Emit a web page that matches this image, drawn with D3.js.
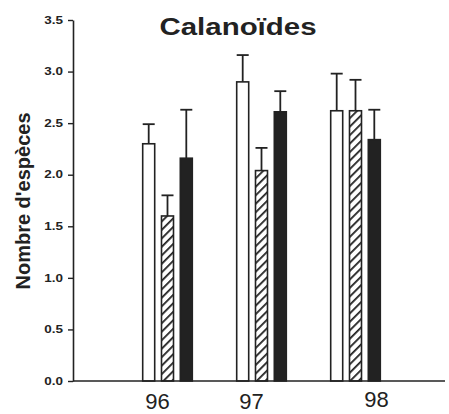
<!DOCTYPE html>
<html>
<head>
<meta charset="utf-8">
<script src="https://cdn.jsdelivr.net/npm/d3@7"></script>
<style>
  body { margin: 0; background: #fff; }
  svg { display: block; }
  text { font-family: "Liberation Sans", Arial, Helvetica, sans-serif; fill: #222; }
</style>
</head>
<body>
<div id="chart"></div>
<script>
// Values
const years = ["96", "97", "98"];
const series = ["blanc", "hachure", "noir"];
const means = {
  blanc:   [2.30, 2.90, 2.62],
  hachure: [1.60, 2.04, 2.62],
  noir:    [2.16, 2.61, 2.34]
};
const errTops = {
  blanc:   [2.49, 3.16, 2.98],
  hachure: [1.80, 2.26, 2.92],
  noir:    [2.63, 2.81, 2.63]
};
const yTicks = [0, 0.5, 1, 1.5, 2, 2.5, 3, 3.5];

const width = 449, height = 414;
const svg = d3.select("#chart")
  .append("svg")
  .attr("width", width)
  .attr("height", height);

const defs = svg.append("defs");
const pat = defs.append("pattern")
  .attr("id", "hatch")
  .attr("patternUnits", "userSpaceOnUse")
  .attr("width", 6)
  .attr("height", 6)
  .attr("patternTransform", "rotate(45)");
pat.append("rect").attr("width", 6).attr("height", 6).attr("fill", "#fff");
pat.append("line")
  .attr("x1", 0).attr("y1", 0).attr("x2", 0).attr("y2", 6)
  .attr("stroke", "#222").attr("stroke-width", 3.6);

// Scales
const y = d3.scaleLinear().domain([0, 3.5]).range([381, 20]);
const x = d3.scalePoint().domain(years).range([167.5, 355.5]);
const xs = d3.scalePoint().domain(series).range([-18.8, 18.8]);
const barW = 12;
const fills = { blanc: "#fff", hachure: "url(#hatch)", noir: "#222" };

const rows = [];
years.forEach((yr, i) => {
  series.forEach(s => {
    rows.push({ year: yr, s: s, v: means[s][i], e: errTops[s][i] });
  });
});

// error bars (upper only)
const eb = svg.append("g").attr("stroke", "#222").attr("stroke-width", 1.8);
eb.selectAll("line.stem")
  .data(rows)
  .enter().append("line")
  .attr("class", "stem")
  .attr("x1", d => x(d.year) + xs(d.s))
  .attr("x2", d => x(d.year) + xs(d.s))
  .attr("y1", d => y(d.v))
  .attr("y2", d => y(d.e));
eb.selectAll("line.cap")
  .data(rows)
  .enter().append("line")
  .attr("class", "cap")
  .attr("x1", d => x(d.year) + xs(d.s) - 6)
  .attr("x2", d => x(d.year) + xs(d.s) + 6)
  .attr("y1", d => y(d.e))
  .attr("y2", d => y(d.e));

// Bars
svg.selectAll("rect.bar")
  .data(rows)
  .enter().append("rect")
  .attr("class", "bar")
  .attr("x", d => x(d.year) + xs(d.s) - barW / 2)
  .attr("y", d => y(d.v))
  .attr("width", barW)
  .attr("height", d => y(0) - y(d.v))
  .attr("fill", d => fills[d.s])
  .attr("stroke", "#222")
  .attr("stroke-width", 1.6);

// Y axis
const yAxis = svg.append("g")
  .attr("transform", "translate(73,0)")
  .call(d3.axisLeft(y).tickValues(yTicks).tickFormat(d3.format(".1f")).tickSize(5).tickSizeOuter(0));
yAxis.select(".domain").attr("stroke", "#222").attr("stroke-width", 1.6);
yAxis.selectAll(".tick line").attr("stroke", "#222").attr("stroke-width", 1.4);
yAxis.selectAll(".tick text")
  .attr("x", 0)
  .attr("transform", "translate(-10,0) scale(1.35,1)")
  .style("font-size", "10px")
  .style("font-weight", "bold")
  .attr("fill", "#222");

// X axis line
svg.append("line")
  .attr("x1", 73).attr("x2", 445)
  .attr("y1", y(0)).attr("y2", y(0))
  .attr("stroke", "#222").attr("stroke-width", 1.6);

// X labels
const labelShift = [-10, -10, 21];
svg.selectAll("text.xl")
  .data(years)
  .enter().append("text")
  .attr("class", "xl")
  .attr("x", (d, i) => x(d) + labelShift[i])
  .attr("y", (d, i) => i === 2 ? 407 : 409)
  .attr("text-anchor", "middle")
  .style("font-size", "22px")
  .text(d => d);

// Title
svg.append("text")
  .attr("transform", "translate(238,35) scale(1.28,1)")
  .attr("text-anchor", "middle")
  .style("font-size", "23px")
  .style("font-weight", "bold")
  .text("Calanoïdes");

// Y label
svg.append("text")
  .attr("transform", "translate(30,201) rotate(-90)")
  .attr("text-anchor", "middle")
  .style("font-size", "20px")
  .style("font-weight", "bold")
  .text("Nombre d'espèces");
</script>
</body>
</html>
